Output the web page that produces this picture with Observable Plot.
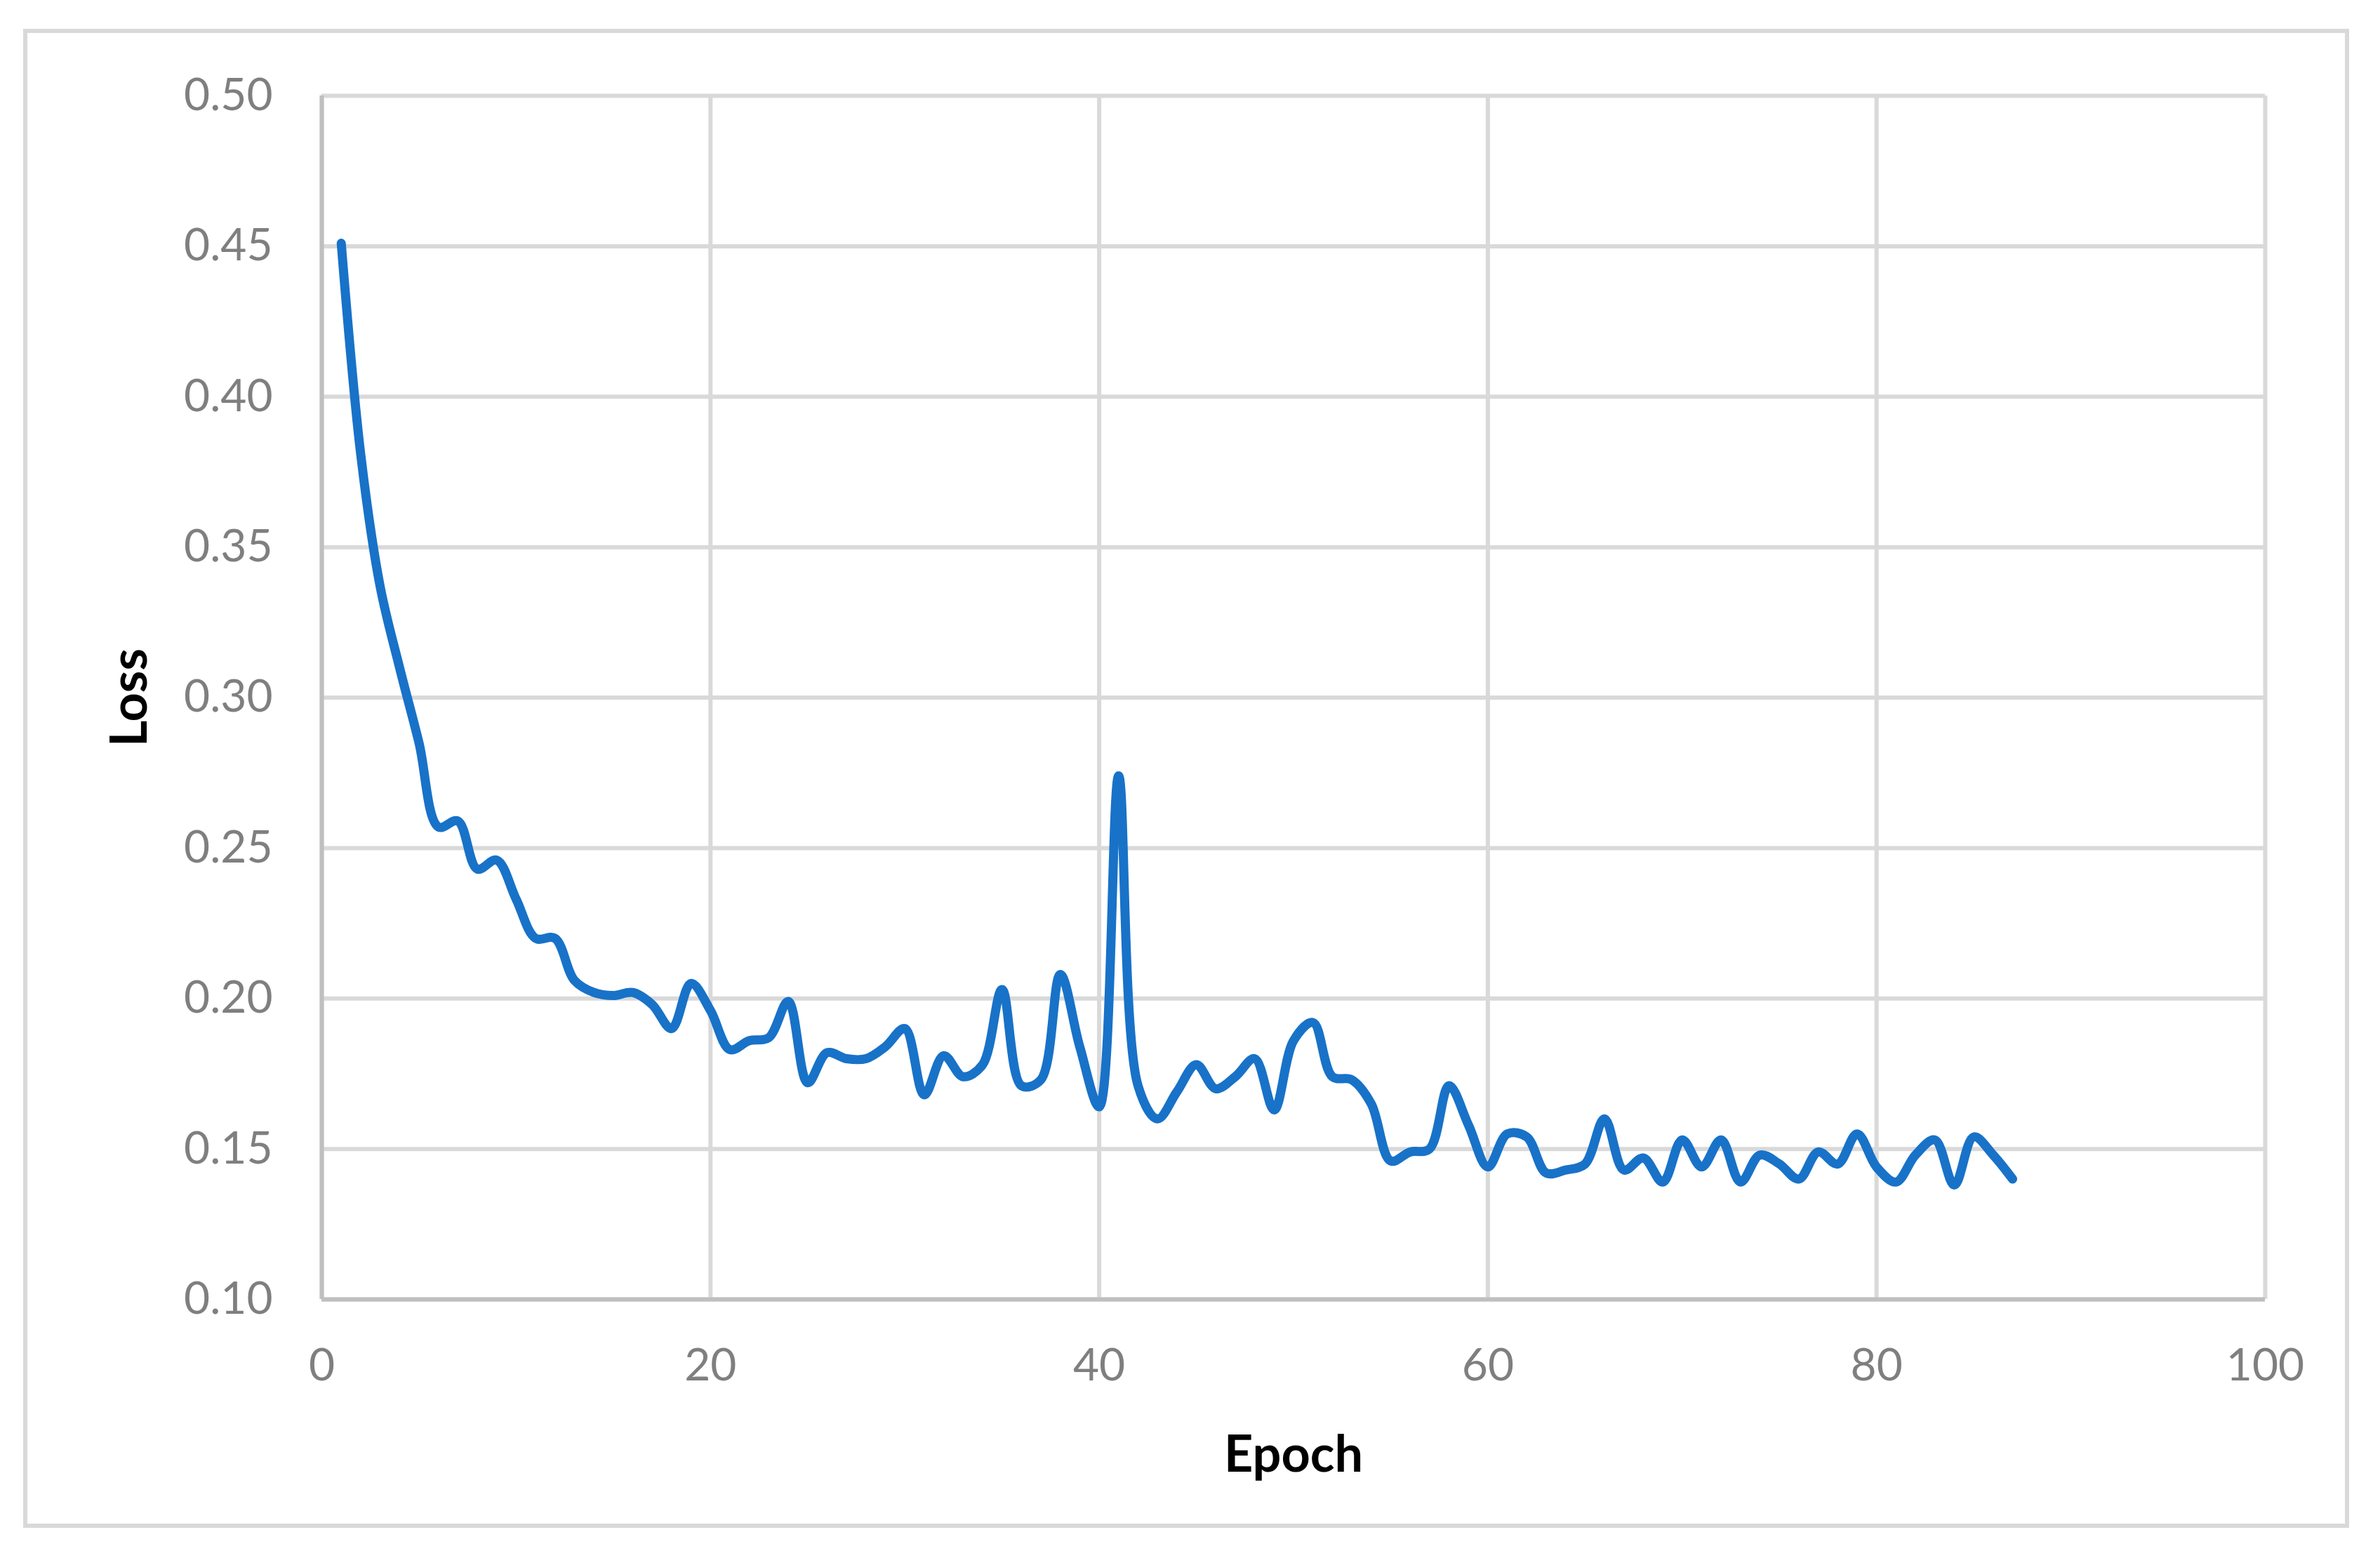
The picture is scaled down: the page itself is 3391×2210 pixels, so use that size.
<!DOCTYPE html>
<html>
<head>
<meta charset="utf-8">
<script src="https://cdn.jsdelivr.net/npm/d3@7"></script>
<script src="https://cdn.jsdelivr.net/npm/@observablehq/plot@0.6"></script>
<style>
  html, body { margin: 0; padding: 0; background: #ffffff; }
  #wrap { position: relative; width: 3391px; height: 2210px; background: #fff; }
  #border { position: absolute; left: 33px; top: 41px; width: 3314px; height: 2136px;
            border: 6px solid #d9d9d9; box-sizing: border-box; pointer-events: none; }
  #wrap svg { position: absolute; left: 0; top: 0; display: block; }
</style>
</head>
<body>
<div id="wrap"><div id="border"></div></div>
<script>
const epochs = [1,2,3,4,5,6,7,8,9,10,11,12,13,14,15,16,17,18,19,20,21,22,23,24,25,26,27,28,29,30,
  31,32,33,34,35,36,37,38,39,40,41,42,43,44,45,46,47,48,49,50,51,52,53,54,55,56,57,58,59,60,
  61,62,63,64,65,66,67,68,69,70,71,72,73,74,75,76,77,78,79,80,81,82,83,84,85,86,87];
const loss = [0.451,0.381,0.337,0.310,0.285,0.257,0.259,0.243,0.246,0.233,
  0.220,0.220,0.206,0.202,0.201,0.202,0.198,0.190,0.205,0.196,
  0.183,0.186,0.187,0.199,0.172,0.182,0.180,0.180,0.184,0.190,
  0.168,0.181,0.174,0.178,0.203,0.171,0.173,0.208,0.184,0.164,
  0.274,0.171,0.160,0.169,0.178,0.170,0.174,0.180,0.163,0.186,
  0.192,0.174,0.173,0.165,0.146,0.149,0.150,0.171,0.158,0.144,
  0.155,0.154,0.142,0.143,0.145,0.160,0.143,0.147,0.139,0.153,
  0.144,0.153,0.139,0.148,0.145,0.140,0.149,0.145,0.155,0.144,
  0.139,0.148,0.153,0.138,0.154,0.148,0.140];
const xTicks = [0,20,40,60,80,100];
const yTicks = [0.10,0.15,0.20,0.25,0.30,0.35,0.40,0.45,0.50];
const xTitle = "Epoch";
const yTitle = "Loss";

const data = epochs.map((e, i) => ({epoch: e, loss: loss[i]}));

const chart = Plot.plot({
  width: 3391,
  height: 2210,
  marginLeft: 458,
  marginRight: 164,
  marginTop: 136,
  marginBottom: 359,
  style: {fontFamily: "Lato, 'Open Sans', sans-serif", background: "transparent"},
  x: {domain: [0, 100]},
  y: {domain: [0.10, 0.50]},
  marks: [
    Plot.gridX(xTicks, {stroke: "#d9d9d9", strokeOpacity: 1, strokeWidth: 6}),
    Plot.gridY(yTicks, {stroke: "#d9d9d9", strokeOpacity: 1, strokeWidth: 6}),
    Plot.ruleX([0], {stroke: "#bfbfbf", strokeWidth: 6}),
    Plot.ruleY([0.10], {stroke: "#bfbfbf", strokeWidth: 6}),
    Plot.axisX(xTicks, {tickSize: 0, tickPadding: 70, fontSize: 64, color: "#7f7f7f", label: null, tickFormat: d3.format("d")}),
    Plot.axisY(yTicks, {tickSize: 0, tickPadding: 70, fontSize: 64, color: "#7f7f7f", label: null, tickFormat: d3.format(".2f")}),
    Plot.line(data, {x: "epoch", y: "loss", curve: "catmull-rom", stroke: "#1872c8", strokeWidth: 13, strokeLinecap: "round", strokeLinejoin: "round"}),
    Plot.text([xTitle], {frameAnchor: "bottom", dy: 222, fontSize: 72, fontWeight: "bold", fill: "#000", lineAnchor: "middle"}),
    Plot.text([yTitle], {frameAnchor: "left", dx: -273, rotate: -90, fontSize: 72, fontWeight: "bold", fill: "#000", lineAnchor: "middle", textAnchor: "middle"})
  ]
});
document.getElementById("wrap").appendChild(chart);
</script>
</body>
</html>
